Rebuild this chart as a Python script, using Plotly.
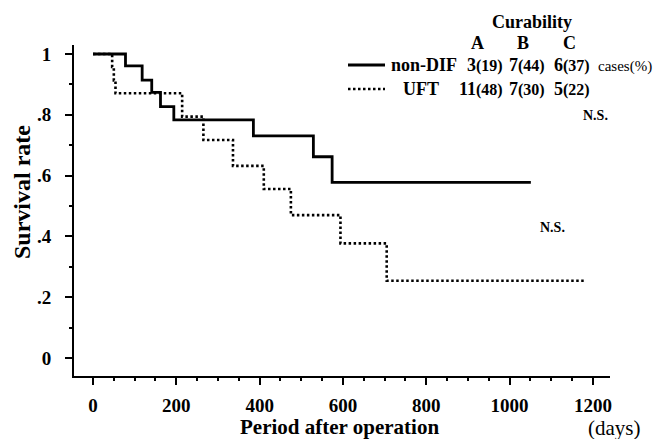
import plotly.graph_objects as go

# ---- data ----
nondif_days = [0, 78, 118, 141, 162, 194, 385, 529, 574, 1051]
nondif_surv = [1.0, 0.961, 0.914, 0.874, 0.827, 0.783, 0.731, 0.662, 0.578, 0.578]

uft_days = [0, 46, 50, 54, 214, 265, 336, 410, 475, 594, 705, 1181]
uft_surv = [1.0, 0.957, 0.913, 0.871, 0.794, 0.717, 0.632, 0.556, 0.470, 0.377, 0.254, 0.254]

x_tickvals = [0, 200, 400, 600, 800, 1000, 1200]
x_ticktext = ["0", "200", "400", "600", "800", "1000", "1200"]
y_tickvals = [0, 0.2, 0.4, 0.6, 0.8, 1.0]
y_ticktext = ["0", ".2", ".4", ".6", ".8", "1"]

groups = ["non-DIF", "UFT"]
curability_cols = ["A", "B", "C"]
cases_nondif = ["3(19)", "7(44)", "6(37)"]
cases_uft = ["11(48)", "7(30)", "5(22)"]

FONT = "Liberation Serif, Times New Roman, serif"

W, H = 669, 439
L, R, T, B = 74, 610, 45, 376  # plot area in pixels


def px(xp):
    return (xp - L) / (R - L)


def py(yp):
    return (B - yp) / (B - T)


fig = go.Figure()
fig.add_trace(go.Scatter(x=nondif_days, y=nondif_surv, mode="lines",
                         line=dict(color="black", width=2.8, shape="hv"),
                         name=groups[0], showlegend=False))
fig.add_trace(go.Scatter(x=uft_days, y=uft_surv, mode="lines",
                         line=dict(color="black", width=2.6, shape="hv", dash="2.5px,2.5px"),
                         name=groups[1], showlegend=False))

axis_common = dict(showline=True, linecolor="black", linewidth=2, ticks="outside",
                   tickcolor="black", tickwidth=2, ticklen=7, showgrid=False, zeroline=False,
                   tickfont=dict(family=FONT, size=19, color="black", weight="bold"))

fig.update_xaxes(range=[-45.6, 1241], tickmode="array", tickvals=x_tickvals,
                 ticktext=x_ticktext,
                 minor=dict(ticks="outside", dtick=50, tick0=0, ticklen=3, tickwidth=2,
                            tickcolor="black", showgrid=False),
                 ticklabelstandoff=4, **axis_common)
fig.update_yaxes(range=[-0.0592, 1.0296], tickmode="array", tickvals=y_tickvals,
                 ticktext=y_ticktext,
                 minor=dict(ticks="outside", dtick=0.1, tick0=0, ticklen=3, tickwidth=2,
                            tickcolor="black", showgrid=False),
                 ticklabelstandoff=10, **axis_common)

ann = []


def add_text(text, xp, yp, size, bold=True, xanchor="center", angle=0):
    ann.append(dict(text=(f"<b>{text}</b>" if bold else text), x=px(xp), y=py(yp),
                    xref="paper", yref="paper", xanchor=xanchor, yanchor="middle",
                    showarrow=False, textangle=angle,
                    font=dict(family=FONT, size=size, color="black")))


# axis titles
add_text("Period after operation", 339, 427, 21)
add_text("(days)", 614, 428, 21, bold=False)
add_text("Survival rate", 22, 192, 24, angle=-90)

# legend / curability table
add_text("Curability", 532, 22, 18)
for lab, xc in zip(curability_cols, [477, 523, 569]):
    add_text(lab, xc, 43, 18)
add_text(groups[0], 389, 65, 18, xanchor="left")
add_text(groups[1], 401, 89, 18, xanchor="left")


def case_label(s):
    i = s.index("(")
    return f"<span style='font-size:18px'>{s[:i]}</span>{s[i:]}"


for s, xc in zip(cases_nondif, [485, 527, 572]):
    add_text(case_label(s), xc, 65, 16)
for s, xc in zip(cases_uft, [480.5, 527, 572]):
    add_text(case_label(s), xc, 89, 16)
add_text("cases(%)", 596, 66, 15, bold=False, xanchor="left")
add_text("N.S.", 595, 115, 14)
add_text("N.S.", 552, 227, 14)

shapes = [
    dict(type="line", xref="paper", yref="paper", x0=px(348), x1=px(385), y0=py(65), y1=py(65),
         line=dict(color="black", width=2.8)),
    dict(type="line", xref="paper", yref="paper", x0=px(348), x1=px(385), y0=py(89), y1=py(89),
         line=dict(color="black", width=2.6, dash="2.5px,2.5px")),
]

fig.update_layout(width=W, height=H, margin=dict(l=L, r=W - R, t=T, b=H - B),
                  plot_bgcolor="white", paper_bgcolor="white",
                  annotations=ann, shapes=shapes, showlegend=False,
                  font=dict(family=FONT, color="black"))

fig.write_html("out.html", config={"displayModeBar": False},
               post_script="document.body.style.margin='0';document.body.style.overflow='hidden';")
